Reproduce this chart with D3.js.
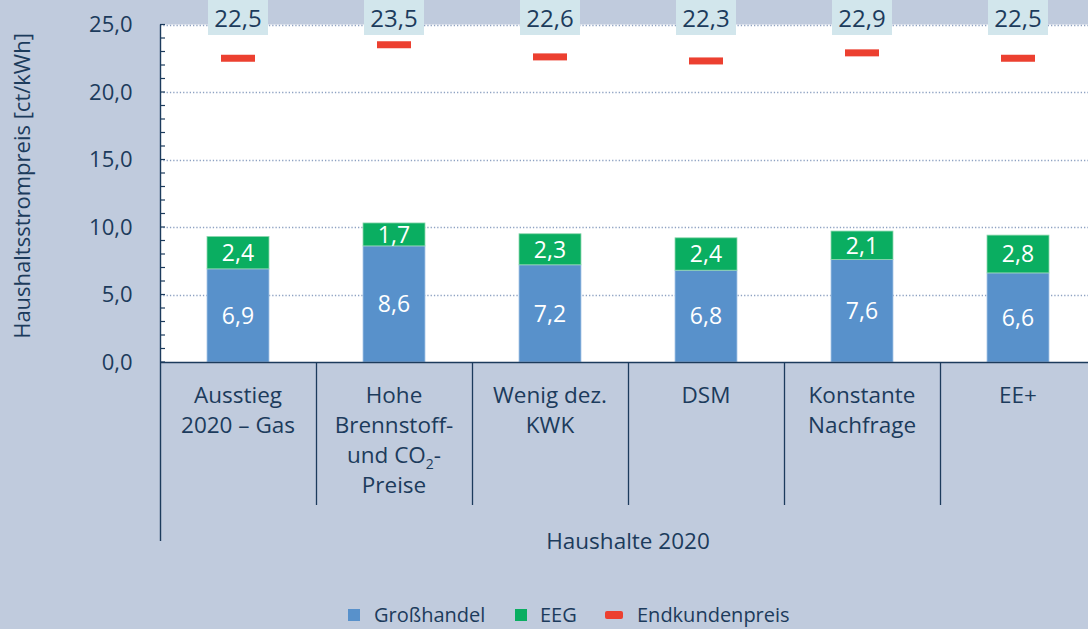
<!DOCTYPE html>
<html>
<head>
<meta charset="utf-8">
<script src="https://cdn.jsdelivr.net/npm/d3@7"></script>
<style>
  body { margin: 0; background: #c0cbdd; }
  svg { display: block; font-family: "Open Sans", "Noto Sans", sans-serif; }
</style>
</head>
<body>
<div id="chart"></div>
<script>
// data
var categories = [
  ["Ausstieg", "2020 – Gas"],
  ["Hohe", "Brennstoff-", "und CO|2|-", "Preise"],
  ["Wenig dez.", "KWK"],
  ["DSM"],
  ["Konstante", "Nachfrage"],
  ["EE+"]
];
var grosshandel = [6.9, 8.6, 7.2, 6.8, 7.6, 6.6];
var eeg = [2.4, 1.7, 2.3, 2.4, 2.1, 2.8];
var endkundenpreis = [22.5, 23.5, 22.6, 22.3, 22.9, 22.5];
var yTicks = [0, 5, 10, 15, 20, 25];
var groupLabel = "Haushalte 2020";
var legendLabels = ["Großhandel", "EEG", "Endkundenpreis"];

var colors = { blue: "#5891cb", green: "#0aae61", red: "#ec4030", text: "#1c3b5c", box: "#d2e6ec" };

var fullWidth = 1088, fullHeight = 629;
var margin = {left: 160, top: 24.5};
var plotBottom = 362;
var bandWidth = 156;

var fmt = function(v) { return d3.format(".1f")(v).replace(".", ","); };

var svg = d3.select("#chart").append("svg")
    .attr("width", fullWidth)
    .attr("height", fullHeight);

svg.append("rect").attr("width", fullWidth).attr("height", fullHeight).attr("fill", "#c0cbdd");

var xScale = d3.scaleBand()
    .domain(d3.range(categories.length))
    .range([margin.left, margin.left + bandWidth * categories.length])
    .paddingInner(0).paddingOuter(0);

var yScale = d3.scaleLinear()
    .domain([0, 25])
    .range([plotBottom, margin.top]);

// plot background
svg.append("rect")
    .attr("x", margin.left)
    .attr("y", yScale(25))
    .attr("width", fullWidth - margin.left)
    .attr("height", plotBottom - yScale(25))
    .attr("fill", "#fff");

// grid lines
svg.append("g").selectAll("line")
    .data(yTicks.filter(function(d) { return d > 0; }))
    .enter().append("line")
    .attr("x1", margin.left).attr("x2", fullWidth)
    .attr("y1", function(d) { return Math.round(yScale(d)) + 0.5; })
    .attr("y2", function(d) { return Math.round(yScale(d)) + 0.5; })
    .attr("stroke", "#8ea2c2")
    .attr("stroke-width", 1.3)
    .attr("stroke-dasharray", "1.3,2");

var barW = 62;

// Großhandel
svg.append("g").selectAll("rect")
    .data(grosshandel)
    .enter().append("rect")
    .attr("x", function(d, i) { return xScale(i) + bandWidth / 2 - barW / 2; })
    .attr("y", function(d) { return yScale(d); })
    .attr("width", barW)
    .attr("height", function(d) { return plotBottom - yScale(d); })
    .attr("fill", colors.blue)
    .attr("stroke", "#a9c6e6").attr("stroke-width", 0.8);

// EEG
svg.append("g").selectAll("rect")
    .data(eeg)
    .enter().append("rect")
    .attr("x", function(d, i) { return xScale(i) + bandWidth / 2 - barW / 2; })
    .attr("y", function(d, i) { return yScale(grosshandel[i] + d); })
    .attr("width", barW)
    .attr("height", function(d) { return yScale(0) - yScale(d); })
    .attr("fill", colors.green)
    .attr("stroke", "#8fd8b0").attr("stroke-width", 0.8);

// segment labels
svg.append("g").selectAll("text")
    .data(grosshandel)
    .enter().append("text")
    .attr("x", function(d, i) { return xScale(i) + bandWidth / 2; })
    .attr("y", function(d) { return (yScale(d) + yScale(0)) / 2; })
    .attr("dy", "0.36em")
    .attr("text-anchor", "middle")
    .attr("fill", "#fff")
    .attr("font-size", 23)
    .text(fmt);

svg.append("g").selectAll("text")
    .data(eeg)
    .enter().append("text")
    .attr("x", function(d, i) { return xScale(i) + bandWidth / 2; })
    .attr("y", function(d, i) { return (yScale(grosshandel[i]) + yScale(grosshandel[i] + d)) / 2; })
    .attr("dy", "0.36em")
    .attr("text-anchor", "middle")
    .attr("fill", "#fff")
    .attr("font-size", 23)
    .text(fmt);

// Endkundenpreis marks
svg.append("g").selectAll("rect")
    .data(endkundenpreis)
    .enter().append("rect")
    .attr("x", function(d, i) { return xScale(i) + bandWidth / 2 - 17; })
    .attr("y", function(d) { return yScale(d) - 3.5; })
    .attr("width", 34)
    .attr("height", 7)
    .attr("fill", colors.red);

// value boxes on top
var boxes = svg.append("g").selectAll("g")
    .data(endkundenpreis)
    .enter().append("g")
    .attr("transform", function(d, i) { return "translate(" + (xScale(i) + bandWidth / 2) + ",0)"; });

boxes.append("rect")
    .attr("x", -30).attr("y", 0)
    .attr("width", 60).attr("height", 35)
    .attr("fill", colors.box);

boxes.append("text")
    .attr("y", 18)
    .attr("dy", "0.36em")
    .attr("text-anchor", "middle")
    .attr("fill", colors.text)
    .attr("font-size", 24)
    .text(fmt);

// y axis
var yAxis = d3.axisLeft(yScale)
    .tickValues(yTicks)
    .tickFormat(fmt)
    .tickSize(0)
    .tickPadding(28);

var yAxisG = svg.append("g")
    .attr("transform", "translate(" + (margin.left + 0.5) + ",0)")
    .call(yAxis);
yAxisG.select(".domain").remove();
yAxisG.selectAll("text").attr("fill", colors.text).attr("font-size", 22).attr("font-family", "Open Sans");

// minor ticks inward
svg.append("g").selectAll("line")
    .data(d3.range(0, 26))
    .enter().append("line")
    .attr("x1", margin.left).attr("x2", margin.left + 5)
    .attr("y1", function(d) { return yScale(d); })
    .attr("y2", function(d) { return yScale(d); })
    .attr("stroke", colors.text)
    .attr("stroke-width", 1.2);

// axis lines
svg.append("line")
    .attr("x1", margin.left + 0.5).attr("x2", margin.left + 0.5)
    .attr("y1", yScale(25)).attr("y2", 541)
    .attr("stroke", colors.text).attr("stroke-width", 1.4);

svg.append("line")
    .attr("x1", margin.left).attr("x2", fullWidth)
    .attr("y1", plotBottom + 0.5).attr("y2", plotBottom + 0.5)
    .attr("stroke", colors.text).attr("stroke-width", 1.6);

// category separators
svg.append("g").selectAll("line")
    .data(d3.range(1, categories.length))
    .enter().append("line")
    .attr("x1", function(d) { return xScale(d) + 0.5; })
    .attr("x2", function(d) { return xScale(d) + 0.5; })
    .attr("y1", plotBottom).attr("y2", 505)
    .attr("stroke", colors.text).attr("stroke-width", 1.3);

// category labels
var catLabels = svg.append("g").selectAll("text")
    .data(categories)
    .enter().append("text")
    .attr("text-anchor", "middle")
    .attr("fill", colors.text)
    .attr("font-size", 22.5)
    .attr("transform", function(d, i) { return "translate(" + (xScale(i) + bandWidth / 2) + ",403)"; });

catLabels.each(function(lines) {
  var t = d3.select(this);
  lines.forEach(function(line, j) {
    var parts = line.split("|");
    var ts = t.append("tspan").attr("x", 0).attr("y", j * 30);
    parts.forEach(function(p, k) {
      if (k === 1) {
        ts.append("tspan").attr("font-size", 14).attr("dy", 6).text(p);
      } else if (k === 2) {
        ts.append("tspan").attr("dy", -6).text(p);
      } else {
        ts.append("tspan").text(p);
      }
    });
  });
});

svg.append("text")
    .attr("x", xScale.range()[0] + (xScale.range()[1] - xScale.range()[0]) / 2)
    .attr("y", 549)
    .attr("text-anchor", "middle")
    .attr("fill", colors.text)
    .attr("font-size", 22.5)
    .text(groupLabel);

// y axis title
svg.append("text")
    .attr("transform", "translate(30,186) rotate(-90)")
    .attr("text-anchor", "middle")
    .attr("fill", colors.text)
    .attr("font-size", 22)
    .text("Haushaltsstrompreis [ct/kWh]");

// legend
var legend = svg.append("g").attr("transform", "translate(0,614)");
legend.append("rect").attr("x", 348).attr("y", -5).attr("width", 12).attr("height", 12).attr("fill", colors.blue);
legend.append("rect").attr("x", 515).attr("y", -5).attr("width", 12).attr("height", 12).attr("fill", colors.green);
legend.append("rect").attr("x", 605).attr("y", -3).attr("width", 18).attr("height", 8).attr("rx", 2).attr("fill", colors.red);
legend.selectAll("text")
    .data(legendLabels)
    .enter().append("text")
    .attr("x", function(d, i) { return [374, 540, 637][i]; })
    .attr("y", 1)
    .attr("dy", "0.36em")
    .attr("fill", colors.text)
    .attr("font-size", 20)
    .text(function(d) { return d; });
</script>
</body>
</html>
